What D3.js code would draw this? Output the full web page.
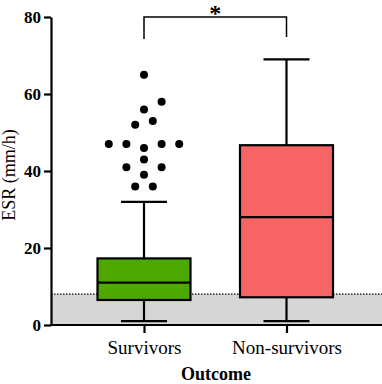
<!DOCTYPE html>
<html>
<head>
<meta charset="utf-8">
<script src="https://cdn.jsdelivr.net/npm/d3@7"></script>
<style>
  body { margin: 0; background: #fff; }
  text { font-family: "Liberation Serif", serif; }
</style>
</head>
<body>
<svg id="chart"></svg>
<script>
// Data
const groups = ["Survivors", "Non-survivors"];
const boxStats = [
  {group: "Survivors", min: 1, q1: 6.5, median: 11, q3: 17.3, max: 32},
  {group: "Non-survivors", min: 1, q1: 7.2, median: 28, q3: 46.7, max: 69}
];
const colors = ["#4fa800", "#f66466"];
// outliers of survivors: value and swarm slot
const outlierValues = [65, 58, 56, 53, 52, 47, 47, 47, 47, 46, 43, 41, 41, 39, 36, 36];
const outlierSlots  = [0, 2, 0, 1, -1, -4, -2, 2, 4, 0, 0, -2, 2, 0, -1, 1];
const yTicks = [0, 20, 40, 60, 80];
const normalLimit = 8;
const yLabel = "ESR (mm/h)";
const xLabel = "Outcome";
const sigLabel = "*";

// Configurations
let width = 382;
let height = 384;
let marginLeft = 51;
let y0 = 325, y80 = 17;

const svg = d3.select("#chart")
    .attr("width", width)
    .attr("height", height)
    .attr("viewBox", [0, 0, width, height]);

const yScale = d3.scaleLinear([0, 80], [y0, y80]);
const xScale = d3.scalePoint(groups, [144, 286.5]);
const slotScale = d3.scaleLinear([-1, 1], [-8.8, 8.8]);
const color = d3.scaleOrdinal(groups, colors);
const boxW = 93, capW = 46;

// normal range band
svg.append("rect")
    .attr("x", marginLeft)
    .attr("y", yScale(normalLimit))
    .attr("width", width - marginLeft)
    .attr("height", yScale(0) - yScale(normalLimit))
    .attr("fill", "#d6d6d6");
svg.append("line")
    .attr("x1", marginLeft).attr("x2", width)
    .attr("y1", yScale(normalLimit)).attr("y2", yScale(normalLimit))
    .attr("stroke", "#000")
    .attr("stroke-width", 1.2)
    .attr("stroke-dasharray", "1.5,1.5");

// boxes
const box = svg.append("g")
    .selectAll("g")
    .data(boxStats)
    .join("g")
    .attr("transform", d => `translate(${xScale(d.group)},0)`)
    .attr("stroke", "#000")
    .attr("stroke-width", 2.2);

box.append("line")
    .attr("y1", d => yScale(d.max)).attr("y2", d => yScale(d.q3));
box.append("line")
    .attr("y1", d => yScale(d.q1)).attr("y2", d => yScale(d.min));
box.append("line")
    .attr("x1", -capW / 2).attr("x2", capW / 2)
    .attr("y1", d => yScale(d.max)).attr("y2", d => yScale(d.max));
box.append("line")
    .attr("x1", -capW / 2).attr("x2", capW / 2)
    .attr("y1", d => yScale(d.min)).attr("y2", d => yScale(d.min));
box.append("rect")
    .attr("x", -boxW / 2)
    .attr("width", boxW)
    .attr("y", d => yScale(d.q3))
    .attr("height", d => yScale(d.q1) - yScale(d.q3))
    .attr("fill", d => color(d.group));
box.append("line")
    .attr("x1", -boxW / 2).attr("x2", boxW / 2)
    .attr("y1", d => yScale(d.median)).attr("y2", d => yScale(d.median));

// outliers
svg.append("g")
    .selectAll("circle")
    .data(outlierValues)
    .join("circle")
    .attr("cx", (d, i) => xScale("Survivors") + slotScale(outlierSlots[i]))
    .attr("cy", d => yScale(d))
    .attr("r", 4)
    .attr("fill", "#000");

// y axis
svg.append("g")
    .attr("transform", `translate(${marginLeft},0)`)
    .call(d3.axisLeft(yScale).tickValues(yTicks).tickSize(7).tickPadding(3).tickSizeOuter(0))
    .call(g => g.select(".domain").attr("stroke-width", 2.2))
    .call(g => g.selectAll(".tick line").attr("stroke-width", 2.2))
    .call(g => g.selectAll(".tick text")
        .attr("font-family", "Liberation Serif, serif")
        .attr("font-size", 17)
        .attr("font-weight", "bold")
        .attr("fill", "#000"));

svg.append("text")
    .attr("transform", `translate(15,${(y0 + y80) / 2 + 4}) rotate(-90)`)
    .attr("text-anchor", "middle")
    .attr("font-size", 18)
    .attr("fill", "#000")
    .text(yLabel);

// x axis
svg.append("g")
    .attr("transform", `translate(0,${y0})`)
    .call(d3.axisBottom(xScale).tickSize(8).tickPadding(8).tickSizeOuter(0))
    .call(g => g.select(".domain").attr("d", `M${marginLeft - 1},0H${width}`).attr("stroke-width", 2.2))
    .call(g => g.selectAll(".tick line").attr("stroke-width", 2.2))
    .call(g => g.selectAll(".tick text")
        .attr("font-family", "Liberation Serif, serif")
        .attr("font-size", 19)
        .attr("fill", "#000"));

svg.append("text")
    .attr("x", 216)
    .attr("y", 380)
    .attr("text-anchor", "middle")
    .attr("font-size", 18)
    .attr("font-weight", "bold")
    .attr("fill", "#000")
    .text(xLabel);

// significance bracket
const bx1 = xScale("Survivors"), bx2 = xScale("Non-survivors");
svg.append("path")
    .attr("d", `M${bx1},39V17H${bx2}V37`)
    .attr("fill", "none")
    .attr("stroke", "#000")
    .attr("stroke-width", 1.5);
svg.append("text")
    .attr("x", (bx1 + bx2) / 2)
    .attr("y", 21)
    .attr("text-anchor", "middle")
    .attr("font-size", 24)
    .attr("font-weight", "bold")
    .attr("fill", "#000")
    .text(sigLabel);
</script>
</body>
</html>
